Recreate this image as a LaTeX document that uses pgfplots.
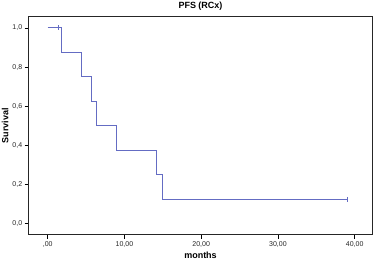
\documentclass[border=0pt]{standalone}
\usepackage{pgfplots}
\pgfplotsset{compat=1.18}
\usepackage{fontspec}
\setmainfont{Liberation Sans}
\definecolor{km}{RGB}{100,108,195}
\begin{document}
\begin{tikzpicture}
\begin{axis}[
  scale only axis,
  width=343.6pt, height=218pt,
  xmin=-2.48, xmax=42.3,
  ymin=-0.056, ymax=1.057,
  axis line style={line width=0.8pt, black!85},
  xtick={0,10,20,30,40},
  xticklabels={{,00},{10,00},{20,00},{30,00},{40,00}},
  ytick={0,0.2,0.4,0.6,0.8,1.0},
  yticklabels={{0,0},{0,2},{0,4},{0,6},{0,8},{1,0}},
  tick align=outside,
  major tick length=4pt,
  tick style={black, line width=0.6pt},
  xtick pos=bottom, ytick pos=left,
  ticklabel style={font=\fontsize{7}{8}\selectfont, text=black!85},
  xticklabel style={yshift=1pt},
  yticklabel style={xshift=1pt},
  xlabel={\textbf{months}},
  ylabel={\textbf{Survival}},
  xlabel style={font=\fontsize{9}{10}\selectfont, yshift=2pt},
  ylabel style={font=\fontsize{9}{10}\selectfont, yshift=-3pt},
  title={\textbf{PFS (RCx)}},
  title style={font=\fontsize{9}{10}\selectfont, yshift=-3pt},
  clip=false,
]
\addplot[km, line width=0.8pt, const plot] coordinates {
  (0,1) (1.8,0.875) (4.43,0.75) (5.74,0.625) (6.3,0.5) (8.95,0.375) (14.2,0.25) (15.0,0.125) (39.1,0.125)
};
\addplot[km, only marks, mark=|, mark size=2.5pt, mark options={line width=0.6pt, draw=km}] coordinates {
  (1.43,1) (39.1,0.125)
};
\end{axis}
\pgfresetboundingbox
\path[use as bounding box] (-28.7pt,-28.3pt) rectangle (345.3pt,234.7pt);
\end{tikzpicture}
\end{document}
